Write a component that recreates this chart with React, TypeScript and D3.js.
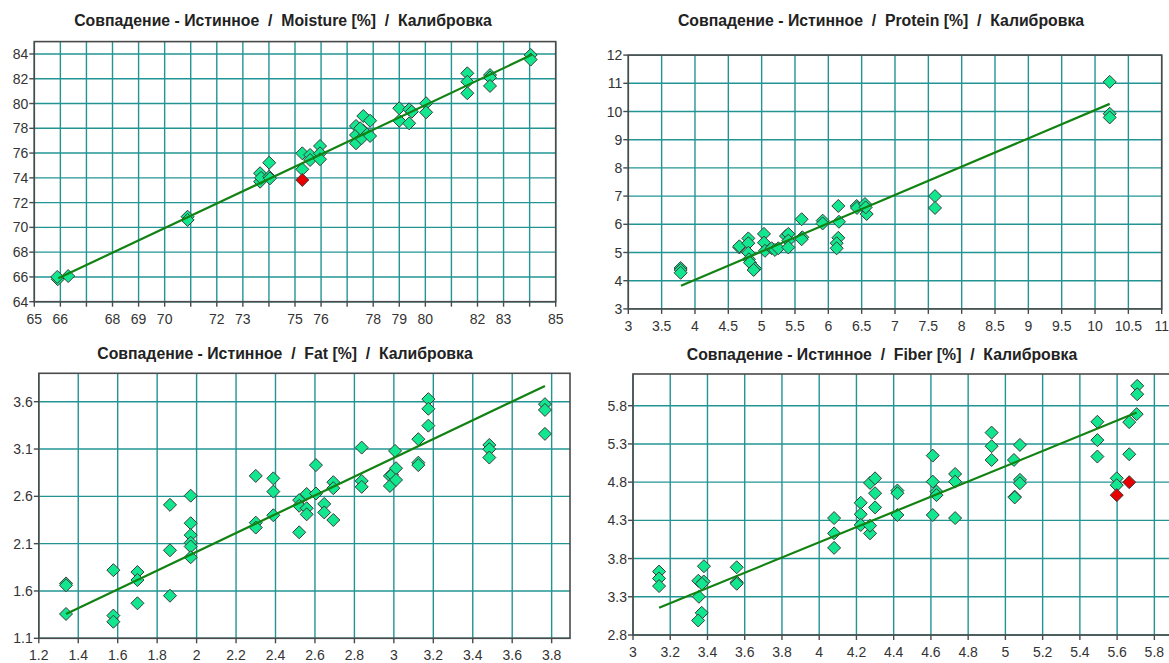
import React from "react";
import * as d3 from "d3";

// ---------- DATA ----------
const moisturePoints: [number, number][] = [
  [65.9, 65.81], [65.88, 66.0], [66.3, 66.07], [70.88, 70.86], [70.88, 70.6],
  [73.66, 74.37], [73.66, 73.69], [73.7, 74.0], [74.01, 75.22], [74.01, 74.09],
  [74.04, 73.96], [75.28, 75.98], [75.28, 74.69], [75.58, 75.85], [75.58, 75.44],
  [75.96, 76.57], [75.96, 75.98], [75.96, 75.5], [77.34, 78.19], [77.34, 77.46],
  [77.34, 76.79], [77.62, 78.99], [77.62, 77.81], [77.55, 77.19], [77.88, 78.61],
  [77.88, 77.38], [77.5, 78.0], [79.0, 79.62], [79.0, 78.61], [79.38, 79.53],
  [79.38, 78.4], [79.48, 79.34], [80.03, 80.02], [80.03, 79.29], [81.61, 82.44],
  [81.61, 81.76], [81.61, 80.83], [82.48, 82.3], [82.48, 82.1], [82.48, 81.42],
  [84.04, 83.92], [84.04, 83.55],
];
const moistureOutliers: [number, number][] = [[75.28, 73.83]];
const moistureFit: [number, number][] = [[65.92, 65.89], [84.1, 83.95]];
const moistureXTicks = [65, 66, 67, 68, 69, 70, 71, 72, 73, 74, 75, 76, 77, 78, 79, 80, 81, 82, 83, 84, 85];
const moistureXLabels = [65, 66, 68, 69, 70, 72, 73, 75, 76, 78, 79, 80, 82, 83, 85];
const moistureYTicks = [64, 66, 68, 70, 72, 74, 76, 78, 80, 82, 84];

const proteinPoints: [number, number][] = [
  [3.785, 4.45], [3.785, 4.38], [3.785, 4.28], [4.665, 5.18], [4.665, 5.22],
  [4.8, 5.5], [4.8, 5.33], [4.8, 4.99], [4.81, 4.76], [4.825, 4.64],
  [4.9, 4.43], [4.88, 4.38], [5.035, 5.66], [5.035, 5.35], [5.05, 5.06],
  [5.15, 5.15], [5.2, 5.09], [5.25, 5.15], [5.365, 5.585], [5.4, 5.66],
  [5.4, 5.42], [5.4, 5.18], [5.6, 6.18], [5.61, 5.54], [5.6, 5.47],
  [5.915, 6.13], [5.915, 6.03], [6.15, 6.65], [6.16, 6.09], [6.15, 5.52],
  [6.125, 5.33], [6.125, 5.15], [6.425, 6.65], [6.43, 6.58], [6.55, 6.72],
  [6.575, 6.365], [6.56, 6.6], [7.6, 7.0], [7.6, 6.58], [10.22, 11.05],
  [10.22, 9.92], [10.22, 9.79],
];
const proteinFit: [number, number][] = [[3.79, 3.82], [10.22, 10.27]];
const proteinXTicks = [3, 3.5, 4, 4.5, 5, 5.5, 6, 6.5, 7, 7.5, 8, 8.5, 9, 9.5, 10, 10.5, 11];
const proteinYTicks = [3, 4, 5, 6, 7, 8, 9, 10, 11, 12];

const fatPoints: [number, number][] = [
  [1.338, 1.68], [1.338, 1.66], [1.338, 1.357], [1.578, 1.82], [1.578, 1.34],
  [1.578, 1.275], [1.7, 1.8], [1.7, 1.716], [1.7, 1.47], [1.865, 2.51],
  [1.865, 2.03], [1.865, 1.55], [1.97, 2.607], [1.97, 2.316], [1.97, 2.19],
  [1.97, 2.11], [1.97, 2.07], [1.97, 1.956], [2.3, 2.816], [2.3, 2.322],
  [2.3, 2.27], [2.389, 2.79], [2.389, 2.65], [2.389, 2.4], [2.52, 2.56],
  [2.52, 2.5], [2.52, 2.22], [2.558, 2.625], [2.558, 2.474], [2.558, 2.41],
  [2.605, 2.93], [2.605, 2.63], [2.647, 2.52], [2.647, 2.43], [2.693, 2.75],
  [2.693, 2.686], [2.693, 2.35], [2.837, 3.115], [2.837, 2.763], [2.837, 2.7],
  [2.98, 2.816], [2.98, 2.71], [2.99, 2.83], [3.006, 3.08], [3.011, 2.897],
  [3.011, 2.773], [3.124, 3.204], [3.124, 2.956], [3.124, 2.93], [3.175, 3.627],
  [3.175, 3.525], [3.175, 3.347], [3.484, 3.143], [3.484, 3.098], [3.484, 3.01],
  [3.766, 3.574], [3.766, 3.513], [3.766, 3.26],
];
const fatFit: [number, number][] = [[1.338, 1.357], [3.766, 3.767]];
const fatXTicks = [1.2, 1.4, 1.6, 1.8, 2, 2.2, 2.4, 2.6, 2.8, 3, 3.2, 3.4, 3.6, 3.8];
const fatYTicks = [1.1, 1.6, 2.1, 2.6, 3.1, 3.6];

const fiberPoints: [number, number][] = [
  [3.14, 3.63], [3.14, 3.54], [3.14, 3.44], [3.381, 3.7], [3.351, 3.51],
  [3.38, 3.5], [3.37, 3.47], [3.354, 3.3], [3.369, 3.09], [3.35, 2.99],
  [3.557, 3.686], [3.557, 3.49], [3.557, 3.47], [4.08, 4.33], [4.08, 4.13],
  [4.08, 3.94], [4.223, 4.53], [4.223, 4.38], [4.223, 4.24], [4.273, 4.13],
  [4.273, 4.23], [4.273, 4.79], [4.3, 4.85], [4.3, 4.655], [4.3, 4.47],
  [4.42, 4.69], [4.42, 4.655], [4.42, 4.37], [4.61, 5.147], [4.61, 4.807],
  [4.63, 4.676], [4.63, 4.63], [4.61, 4.37], [4.73, 4.907], [4.73, 4.807],
  [4.73, 4.33], [4.926, 5.448], [4.926, 5.27], [4.926, 5.09], [5.046, 5.09],
  [5.078, 5.287], [5.078, 4.83], [5.078, 4.786], [5.05, 4.61], [5.05, 4.6],
  [5.494, 5.59], [5.494, 5.35], [5.494, 5.135], [5.598, 4.85], [5.598, 4.76],
  [5.665, 5.165], [5.665, 5.585], [5.705, 5.69], [5.708, 6.06], [5.708, 5.95],
];
const fiberOutliers: [number, number][] = [[5.598, 4.63], [5.665, 4.8]];
const fiberFit: [number, number][] = [[3.14, 3.157], [5.705, 5.71]];
const fiberXTicks = [3, 3.2, 3.4, 3.6, 3.8, 4, 4.2, 4.4, 4.6, 4.8, 5, 5.2, 5.4, 5.6, 5.8];
const fiberYTicks = [2.8, 3.3, 3.8, 4.3, 4.8, 5.3, 5.8];

// ---------- STYLE ----------
const GRID = "#239494";
const FRAME = "#4a4a4a";
const FIT = "#128212";
const FILL = "#12e68e";
const RED = "#e80000";
const FONT = "'Liberation Sans', Arial, sans-serif";

type PanelProps = {
  title: string;
  points: [number, number][];
  outliers: [number, number][];
  fit: [number, number][];
  xDomain: [number, number];
  yDomain: [number, number];
  xRange: [number, number];
  yRange: [number, number];
  xTicks: number[];
  xLabels: number[];
  yTicks: number[];
  titleX: number;
  titleY: number;
};

function Diamond({ cx, cy, fill }: { cx: number; cy: number; fill: string }) {
  const r = 6.5;
  return (
    <path
      d={`M${cx},${cy - r}L${cx + r},${cy}L${cx},${cy + r}L${cx - r},${cy}Z`}
      fill={fill}
      stroke="#3a3a3a"
      strokeWidth={1}
    />
  );
}

function Panel(p: PanelProps) {
  const x = d3.scaleLinear().domain(p.xDomain).range(p.xRange);
  const y = d3.scaleLinear().domain(p.yDomain).range(p.yRange);
  const [x0, x1] = p.xRange;
  const [yb, yt] = p.yRange;
  const line = d3
    .line<[number, number]>()
    .x((d) => x(d[0]))
    .y((d) => y(d[1]));
  return (
    <g>
      <text
        x={p.titleX}
        y={p.titleY}
        textAnchor="middle"
        fontFamily={FONT}
        fontWeight="bold"
        fontSize={15.8}
        fill="#222"
        style={{ whiteSpace: "pre" }}
      >
        {p.title}
      </text>
      <rect x={x0} y={yt} width={x1 - x0} height={yb - yt} fill="#fff" />
      {p.xTicks.map((t) => (
        <line key={"gx" + t} x1={x(t)} x2={x(t)} y1={yt} y2={yb} stroke={GRID} strokeWidth={1.4} />
      ))}
      {p.yTicks.map((t) => (
        <line key={"gy" + t} x1={x0} x2={x1} y1={y(t)} y2={y(t)} stroke={GRID} strokeWidth={1.4} />
      ))}
      {p.points.map((d, i) => (
        <Diamond key={"p" + i} cx={x(d[0])} cy={y(d[1])} fill={FILL} />
      ))}
      {p.outliers.map((d, i) => (
        <Diamond key={"o" + i} cx={x(d[0])} cy={y(d[1])} fill={RED} />
      ))}
      <path d={line(p.fit) || ""} fill="none" stroke={FIT} strokeWidth={2.2} />
      <rect x={x0} y={yt} width={x1 - x0} height={yb - yt} fill="none" stroke={FRAME} strokeWidth={1.6} />
      {p.xTicks.map((t) => (
        <line key={"tx" + t} x1={x(t)} x2={x(t)} y1={yb} y2={yb + 5} stroke={FRAME} strokeWidth={1.4} />
      ))}
      {p.yTicks.map((t) => (
        <line key={"ty" + t} x1={x0 - 5} x2={x0} y1={y(t)} y2={y(t)} stroke={FRAME} strokeWidth={1.4} />
      ))}
      {p.xLabels.map((t) => (
        <text
          key={"lx" + t}
          x={x(t)}
          y={yb + 22}
          textAnchor="middle"
          fontFamily={FONT}
          fontSize={14}
          fill="#333"
        >
          {String(t)}
        </text>
      ))}
      {p.yTicks.map((t) => (
        <text
          key={"ly" + t}
          x={x0 - 6}
          y={y(t) + 5}
          textAnchor="end"
          fontFamily={FONT}
          fontSize={14}
          fill="#333"
        >
          {String(t)}
        </text>
      ))}
    </g>
  );
}

export default function App() {
  return (
    <svg
      width={1169}
      height={663}
      style={{ position: "absolute", left: 0, top: 0, background: "#fff" }}
    >
      <Panel
        title="Совпадение - Истинное  /  Moisture [%]  /  Калибровка"
        points={moisturePoints}
        outliers={moistureOutliers}
        fit={moistureFit}
        xDomain={[65, 85]}
        yDomain={[64, 85]}
        xRange={[34.3, 555.7]}
        yRange={[301.7, 41.6]}
        xTicks={moistureXTicks}
        xLabels={moistureXLabels}
        yTicks={moistureYTicks}
        titleX={283}
        titleY={26}
      />
      <Panel
        title="Совпадение - Истинное  /  Protein [%]  /  Калибровка"
        points={proteinPoints}
        outliers={[]}
        fit={proteinFit}
        xDomain={[3, 11]}
        yDomain={[3, 12]}
        xRange={[628.3, 1161.7]}
        yRange={[308.9, 55.1]}
        xTicks={proteinXTicks}
        xLabels={proteinXTicks}
        yTicks={proteinYTicks}
        titleX={881}
        titleY={26}
      />
      <Panel
        title="Совпадение - Истинное  /  Fat [%]  /  Калибровка"
        points={fatPoints}
        outliers={[]}
        fit={fatFit}
        xDomain={[1.2, 3.893]}
        yDomain={[1.1, 3.9]}
        xRange={[38.8, 570]}
        yRange={[638.3, 373.3]}
        xTicks={fatXTicks}
        xLabels={fatXTicks}
        yTicks={fatYTicks}
        titleX={285}
        titleY={359}
      />
      <Panel
        title="Совпадение - Истинное  /  Fiber [%]  /  Калибровка"
        points={fiberPoints}
        outliers={fiberOutliers}
        fit={fiberFit}
        xDomain={[3, 5.92]}
        yDomain={[2.8, 6.215]}
        xRange={[633, 1176.7]}
        yRange={[635, 374]}
        xTicks={fiberXTicks}
        xLabels={fiberXTicks}
        yTicks={fiberYTicks}
        titleX={882}
        titleY={360}
      />
    </svg>
  );
}
